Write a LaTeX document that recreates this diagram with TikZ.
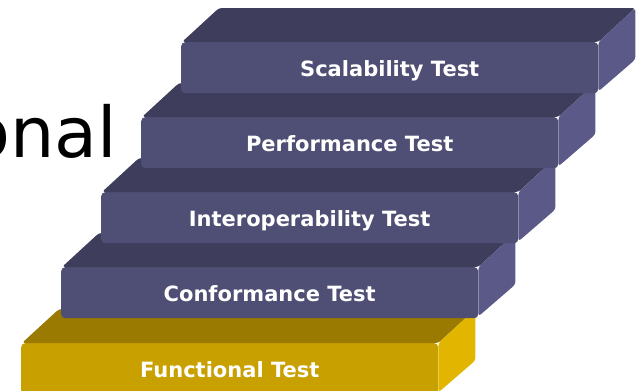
\documentclass[tikz,border=0pt]{standalone}
\usepackage{fontspec}
\setmainfont{DejaVu Sans}
\definecolor{pfront}{HTML}{4F4E74}
\definecolor{ptop}{HTML}{3E3D5C}
\definecolor{pside}{HTML}{5A5987}
\definecolor{pedge}{HTML}{6A69A0}
\definecolor{gfront}{HTML}{C8A000}
\definecolor{gtop}{HTML}{9A7A00}
\definecolor{gside}{HTML}{E2B600}
\definecolor{gedge}{HTML}{F0C820}
\tikzset{
  face/.style={rectangle, rounded corners=4pt, minimum width=417pt, minimum height=51pt, inner sep=0pt, anchor=north west, draw=none},
  lab/.style={text=white, font=\bfseries\fontsize{21}{21}\selectfont, text height=15.3pt, text depth=0pt, inner sep=0pt},
}
\newcommand{\stepblock}[7]{%
  % #1 name, #2 x, #3 y, #4 front, #5 top, #6 side, #7 text
  \node[face, fill=#4] (#1) at (#2,#3) {};
  \fill[#5, rounded corners=3pt] (#1.north west) ++(1,0) -- ++(37,-34) -- ([xshift=37pt,yshift=34pt]#1.north east) -- (#1.north east) -- cycle;
  \fill[#6, rounded corners=3pt] (#1.north east) -- ++(37,-34) -- ([xshift=37pt,yshift=34pt]#1.south east) -- ([yshift=2pt]#1.south east) -- cycle;
  \path (#1.center) ++(0,1.5) node[lab] (#1t) {#7};
}
\begin{document}
\begin{tikzpicture}[x=1pt,y=-1pt]
\useasboundingbox (0,0) rectangle (643,391);
\clip (0,0) rectangle (643,391);
\node[anchor=base east, inner sep=0pt, font=\fontsize{70}{70}\selectfont] (big) at (117.5,157) {onal};
\stepblock{f}{21}{343}{gfront}{gtop}{gside}{Functional Test}
\stepblock{c}{61}{267}{pfront}{ptop}{pside}{Conformance Test}
\stepblock{i}{101}{192}{pfront}{ptop}{pside}{Interoperability Test}
\stepblock{p}{141}{117}{pfront}{ptop}{pside}{Performance Test}
\stepblock{s}{181}{42}{pfront}{ptop}{pside}{Scalability Test}
\end{tikzpicture}
\end{document}
